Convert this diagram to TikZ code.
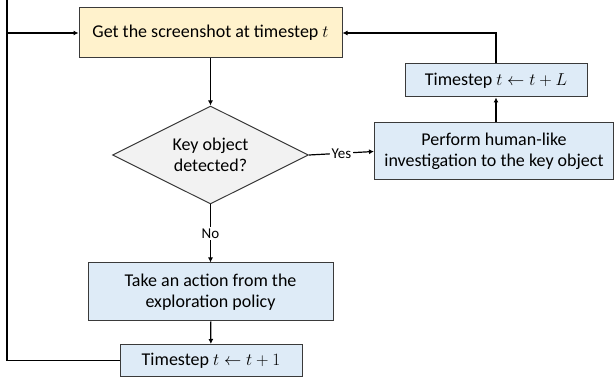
\documentclass[tikz,border=0pt]{standalone}
\usepackage{fontspec}
\setmainfont{Carlito}
\usetikzlibrary{shapes.geometric,arrows.meta}
\definecolor{boxline}{HTML}{3A3A3A}
\definecolor{yellowfill}{HTML}{FFF2CC}
\definecolor{bluefill}{HTML}{DEEBF7}
\definecolor{grayfill}{HTML}{F2F2F2}
\tikzset{
  stepbox/.style={draw=boxline, line width=1pt, fill=bluefill, align=center,
    inner sep=0pt, font=\fontsize{18}{21}\selectfont},
  decide/.style={diamond, draw=boxline, line width=1pt, fill=grayfill, align=center,
    inner sep=0pt, font=\fontsize{18}{21}\selectfont},
  flow/.style={line width=1.2pt, -{Latex[length=5pt,width=5pt]}},
  lbl/.style={font=\fontsize{15}{17}\selectfont, fill=white, inner sep=1.5pt}
}
\begin{document}
\begin{tikzpicture}[x=1pt,y=-1pt]
\useasboundingbox (0,0) rectangle (616,379);
% boxes
\node[stepbox, fill=yellowfill, minimum width=263pt, minimum height=50pt] (shot) at (210.5,33) {Get the screenshot at timestep $t$};
\node[decide, minimum width=196pt, minimum height=98pt, aspect=2] (key) at (210.5,155) {Key object\\detected?};
\node[stepbox, minimum width=239pt, minimum height=57pt] (inv) at (494,151.5) {Perform human-like\\investigation to the key object};
\node[stepbox, minimum width=182pt, minimum height=33pt] (tL) at (496,80.5) {Timestep $t \leftarrow t + L$};
\node[stepbox, minimum width=245pt, minimum height=58pt] (act) at (210.5,292) {Take an action from the\\exploration policy};
\node[stepbox, minimum width=182pt, minimum height=32pt] (t1) at (211,360.5) {Timestep $t \leftarrow t + 1$};
\coordinate (leftrail) at (7,0);
% connectors
\draw[flow] (shot) -- (key);
\draw[flow] (key.east) -- node[lbl] {Yes} (inv.west);
\draw[flow] (key.south) -- node[lbl] {No} (act.north);
\draw[flow] (act) -- (t1);
\draw[flow] (inv.north -| tL) -- (tL.south);
\draw[flow] (tL.north) |- (shot.east);
\draw[flow] (t1.west) -| (leftrail) |- (shot.west);
\end{tikzpicture}
\end{document}
